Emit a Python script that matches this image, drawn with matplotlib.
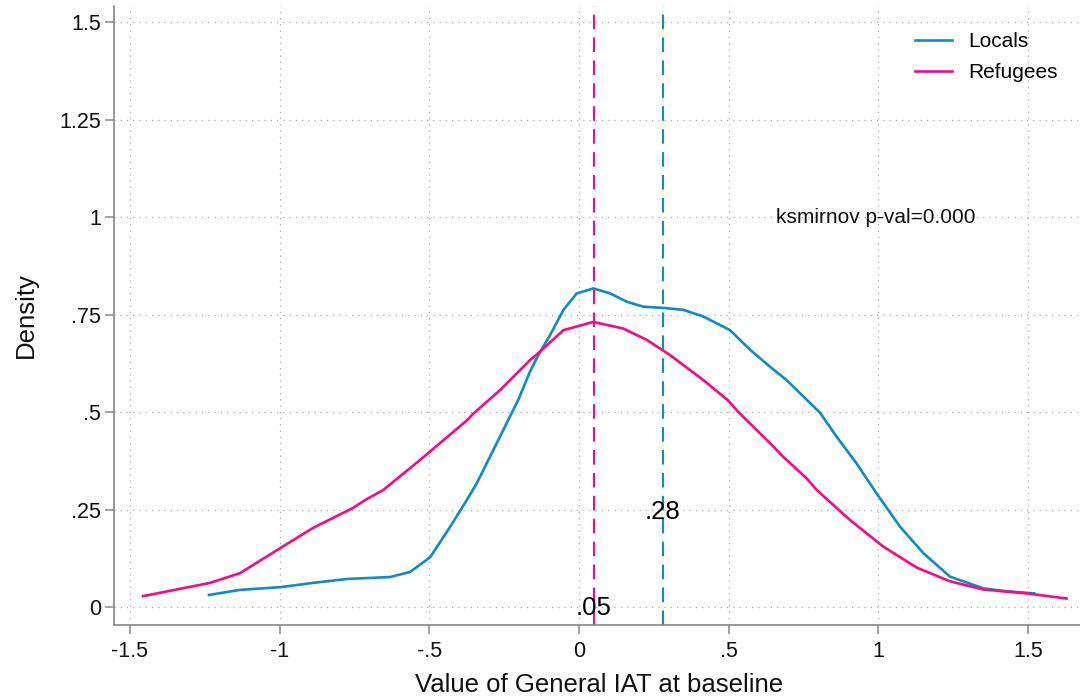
import matplotlib
matplotlib.use('Agg')
import matplotlib.pyplot as plt

plt.rcParams['font.family'] = ['Liberation Sans', 'DejaVu Sans']

# kernel density curves
locals_x = [-1.236, -1.132, -0.998, -0.888, -0.775, -0.631, -0.564, -0.497, -0.431, -0.375,
            -0.341, -0.275, -0.203, -0.164, -0.136, -0.097, -0.052, -0.008, 0.048, 0.104,
            0.159, 0.215, 0.282, 0.348, 0.415, 0.504, 0.571, 0.638, 0.693, 0.805,
            0.860, 0.927, 0.994, 1.072, 1.150, 1.239, 1.350, 1.42, 1.52]
locals_y = [0.031, 0.044, 0.051, 0.062, 0.072, 0.077, 0.090, 0.128, 0.205, 0.274,
            0.318, 0.420, 0.531, 0.603, 0.646, 0.697, 0.762, 0.804, 0.817, 0.804,
            0.783, 0.770, 0.767, 0.762, 0.745, 0.710, 0.660, 0.616, 0.582, 0.498,
            0.437, 0.368, 0.291, 0.206, 0.138, 0.078, 0.048, 0.041, 0.035]

refugees_x = [-1.456, -1.232, -1.132, -0.998, -0.888, -0.755, -0.715, -0.654, -0.531, -0.374,
              -0.353, -0.264, -0.164, -0.130, -0.052, 0.048, 0.148, 0.226, 0.304, 0.415,
              0.496, 0.532, 0.638, 0.682, 0.760, 0.794, 0.905, 1.016, 1.128, 1.239,
              1.350, 1.495, 1.628]
refugees_y = [0.028, 0.062, 0.087, 0.151, 0.203, 0.254, 0.274, 0.300, 0.377, 0.479,
              0.496, 0.556, 0.633, 0.655, 0.710, 0.731, 0.714, 0.685, 0.646, 0.582,
              0.531, 0.500, 0.420, 0.385, 0.330, 0.300, 0.223, 0.155, 0.101, 0.066,
              0.045, 0.035, 0.022]

# medians shown as dashed lines, with their labels and y positions
median_locals = 0.28
median_refugees = 0.05
median_labels = ['.28', '.05']
median_label_y = [0.244, -0.003]

ks_text = 'ksmirnov p-val=0.000'

xticks = [-1.5, -1, -0.5, 0, 0.5, 1, 1.5]
xticklabels = ['-1.5', '-1', '-.5', '0', '.5', '1', '1.5']
yticks = [0, 0.25, 0.5, 0.75, 1, 1.25, 1.5]
yticklabels = ['0', '.25', '.5', '.75', '1', '1.25', '1.5']

blue = '#108cbe'
pink = '#fa0a82'
grey = '#888888'

fig = plt.figure(figsize=(10.8, 6.98), dpi=100)
ax = fig.add_axes([114 / 1080, 73 / 698, 966 / 1080, 619 / 698])

ax.grid(True, linestyle=(0, (1, 4)), color='#aaaaaa', lw=0.9)
ax.set_axisbelow(True)

ax.plot(locals_x, locals_y, color=blue, lw=1.9, label='Locals', solid_joinstyle='round')
ax.plot(refugees_x, refugees_y, color=pink, lw=1.9, label='Refugees', solid_joinstyle='round')

ax.axvline(median_refugees, color=pink, lw=1.5, ls=(0, (7, 4)))
ax.axvline(median_locals, color=blue, lw=1.5, ls=(0, (7, 4)))

for xv, lab, yv in zip([median_locals, median_refugees], median_labels, median_label_y):
    ax.text(xv, yv, lab, ha='center', va='center', fontsize=18.5, color='black')

ax.text(0.99, 1.0, ks_text, ha='center', va='center', fontsize=15, color='#111111')

ax.set_xlim(-1.553, 1.673)
ax.set_ylim(-0.046, 1.541)
ax.set_xticks(xticks)
ax.set_xticklabels(xticklabels)
ax.set_yticks(yticks)
ax.set_yticklabels(yticklabels)
ax.tick_params(axis='both', length=6.5, width=1.1, color=grey, labelsize=15.5,
               labelcolor='#111111')
ax.tick_params(axis='y', pad=3)
ax.tick_params(axis='x', pad=5)

for s in ['top', 'right']:
    ax.spines[s].set_visible(False)
for s in ['left', 'bottom']:
    ax.spines[s].set_color(grey)
    ax.spines[s].set_linewidth(1.2)

ax.set_xlabel('Value of General IAT at baseline', fontsize=18.5, color='#111111')
ax.set_ylabel('Density', fontsize=18.5, color='#111111')
ax.xaxis.set_label_coords(0.5026, -0.077)
ax.yaxis.set_label_coords(-0.079, 0.5)

ax.legend(loc='upper left', bbox_to_anchor=(915 / 1080, 1 - 32 / 698),
          bbox_transform=fig.transFigure, frameon=False, fontsize=15,
          borderpad=0, borderaxespad=0, handlelength=1.78, handletextpad=0.77,
          labelspacing=0.6)

fig.savefig('out.png', dpi=100)
